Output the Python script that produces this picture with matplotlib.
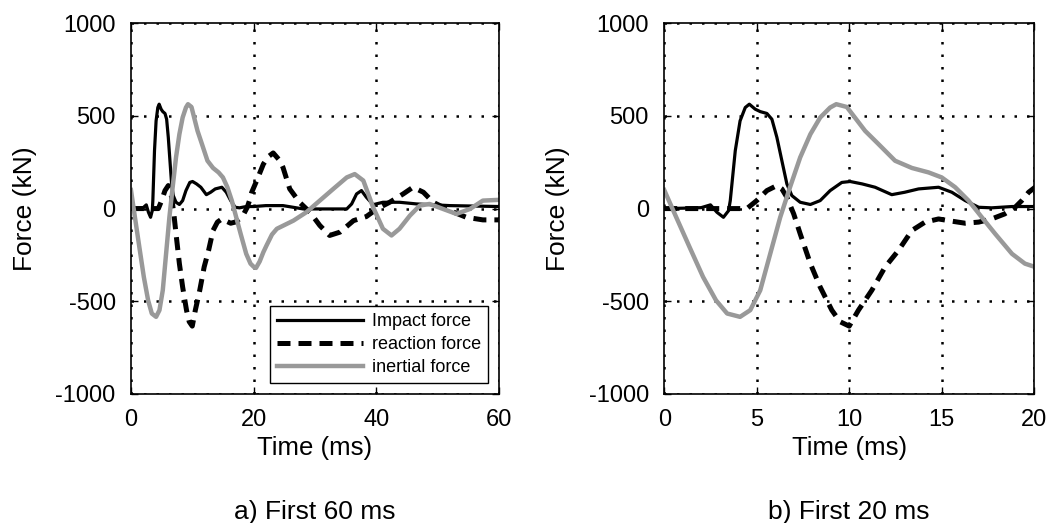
import matplotlib.pyplot as plt

plt.rcParams['font.family'] = ['Liberation Sans', 'DejaVu Sans']
plt.rcParams['axes.unicode_minus'] = False

# impact force (kN) vs time (ms)
t_imp = [0, 1.0, 2.0, 2.5, 2.85, 3.2, 3.48, 3.57, 3.84, 4.1, 4.38, 4.6, 4.92,
         5.19, 5.55, 5.82, 6.09, 6.36, 6.63, 6.9, 7.35, 7.9, 8.43, 8.97, 9.6,
         10.05, 10.7, 11.4, 12.3, 13.0, 13.75, 14.83, 15.55, 16.27, 17.0, 17.7,
         18.8, 20.05, 22.0, 24.8, 28.1, 35.2, 36.0, 36.8, 37.6, 38.4, 39.5,
         41.1, 43.8, 46.6, 52.0, 60.0]
f_imp = [0, 2, 5, 20, -20, -47, -11, 43, 312, 473, 545, 563, 536,
         523, 513, 482, 384, 258, 133, 70, 34, 22, 43, 97, 141,
         146, 133, 115, 75, 88, 106, 115, 88, 43, 7, 4,
         11, 11, 16, 16, -2, -2, 25, 79, 97, 61, 21,
         34, 34, 25, 16, 11]

# reaction force
t_rea = [0, 3.9, 4.47, 5.0, 5.55, 6.09, 6.36, 6.63, 7.0, 7.35, 7.9, 8.43, 9.06,
         9.5, 10.0, 10.5, 11.22, 11.94, 12.66, 13.39, 14.1, 14.83, 15.55,
         16.27, 17.0, 17.7, 18.4, 18.97, 19.33, 19.7, 20.5, 21.6, 22.4, 23.2,
         24.3, 24.8, 25.9, 27.5, 29.2, 30.8, 32.4, 34.1, 36.3, 38.4, 40.1,
         42.2, 44.4, 46.0, 47.7, 49.3, 52.0, 54.7, 57.4, 60.0]
f_rea = [0, 0, 0, 43, 97, 124, 106, 61, -29, -136, -297, -423, -548,
         -610, -634, -548, -441, -315, -226, -118, -73, -56, -68,
         -79, -73, -56, -29, 7, 43, 88, 150, 240, 280, 300,
         258, 222, 106, 34, -20, -91, -145, -127, -65, -43, -2,
         34, 79, 115, 88, 34, -11, -47, -61, -61]

# inertial force
t_ine = [0, 0.65, 1.37, 2.1, 2.8, 3.4, 4.1, 4.65, 5.19, 5.73, 6.27, 6.8, 7.35,
         7.9, 8.43, 8.97, 9.3, 9.87, 10.86, 11.58, 12.48, 13.39, 14.29, 15.0,
         15.73, 16.45, 17.17, 17.89, 18.8, 19.5, 20.05, 20.4, 21.0, 21.6, 22.1,
         23.0, 23.8, 26.5, 28.6, 30.8, 33.0, 35.2, 36.5, 37.9, 39.5, 41.1,
         42.5, 43.8, 45.5, 47.1, 48.7, 50.9, 53.1, 55.3, 57.4, 60.0]
f_ine = [100, -47, -208, -369, -495, -566, -584, -548, -441, -244, -47, 115, 276,
         401, 491, 545, 563, 548, 419, 348, 258, 219, 195, 168,
         115, 43, -47, -136, -244, -297, -315, -320, -285, -235, -200,
         -140, -109, -65, -20, 43, 106, 168, 186, 151, 7, -109,
         -145, -109, -38, 16, 25, -2, -29, -2, 43, 47]

panels = [
    dict(xlim=(0, 60), xticks=[0, 20, 40, 60], caption='a) First 60 ms',
         rect=[0.1246, 0.2467, 0.350, 0.709], legend=True),
    dict(xlim=(0, 20), xticks=[0, 5, 10, 15, 20], caption='b) First 20 ms',
         rect=[0.632, 0.2467, 0.352, 0.709], legend=False),
]

fig = plt.figure(figsize=(10.51, 5.23), dpi=100)

for p in panels:
    ax = fig.add_axes(p['rect'])
    ax.plot(t_imp, f_imp, color='black', lw=2.3, label='Impact force',
            solid_joinstyle='round')
    ax.plot(t_rea, f_rea, color='black', lw=3.6, ls=(0, (2.6, 1.6)),
            label='reaction force', dash_joinstyle='round')
    ax.plot(t_ine, f_ine, color='#999999', lw=3.2, label='inertial force',
            solid_joinstyle='round')
    ax.set_xlim(*p['xlim'])
    ax.set_ylim(-1000, 1000)
    ax.set_xticks(p['xticks'])
    ax.set_yticks([-1000, -500, 0, 500, 1000])
    ax.grid(True, color='black', ls=(0, (1, 4)), lw=1.8)
    ax.tick_params(direction='in', top=True, right=True, labelsize=17,
                   length=5, width=1)
    ax.tick_params(axis='x', pad=10.5)
    ax.tick_params(axis='y', pad=11)
    for s in ax.spines.values():
        s.set_linewidth(1.2)
    ax.set_xlabel('Time (ms)', fontsize=18.5, labelpad=4)
    ax.set_ylabel('Force (kN)', fontsize=19)
    ax.yaxis.set_label_coords(-0.255, 0.5)
    ax.text(0.5, -0.318, p['caption'], transform=ax.transAxes, ha='center',
            va='center', fontsize=19)
    if p['legend']:
        ax.legend(loc='lower right', fontsize=13, frameon=True, fancybox=False,
                  edgecolor='black', framealpha=1, handlelength=4.8,
                  handletextpad=0.45, borderaxespad=0.6, labelspacing=0.32,
                  borderpad=0.4)

fig.savefig('out.png', dpi=100)
